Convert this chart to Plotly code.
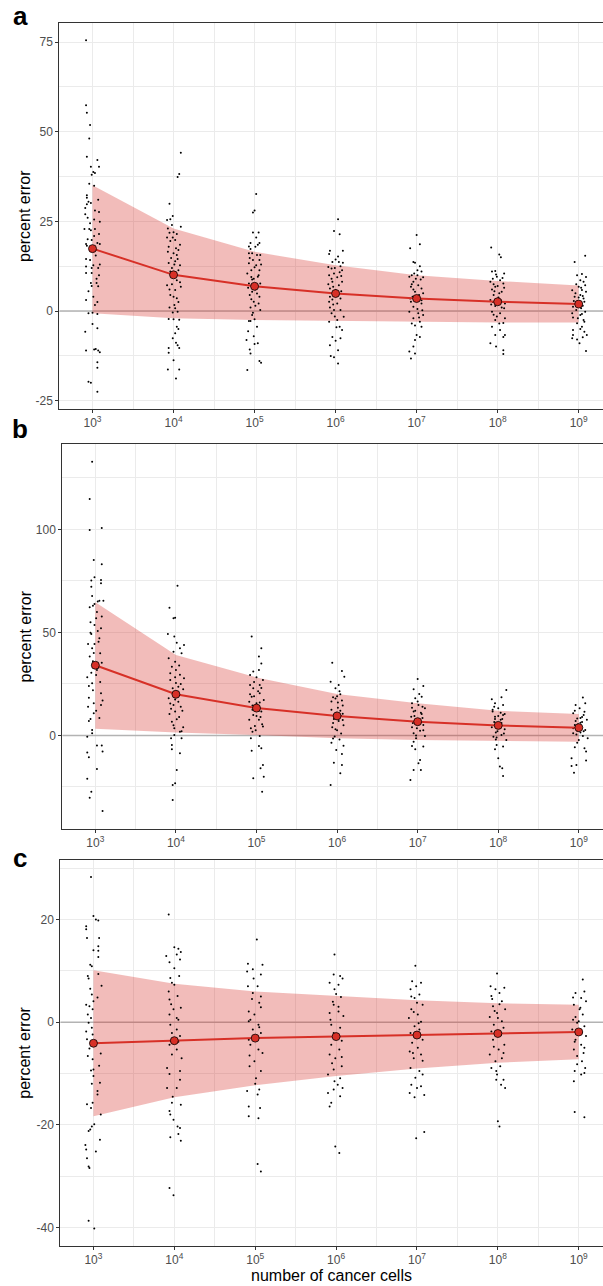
import plotly.graph_objects as go

# ---------------------------------------------------------------------------
# Data
# ---------------------------------------------------------------------------
CELLS_LOG10 = [3, 4, 5, 6, 7, 8, 9]
TICK_TEXT = ["10<sup>3</sup>", "10<sup>4</sup>", "10<sup>5</sup>", "10<sup>6</sup>",
             "10<sup>7</sup>", "10<sup>8</sup>", "10<sup>9</sup>"]

# panel a: mean percent error and ribbon bounds
A_MEAN = [17.4, 10.1, 6.9, 4.9, 3.5, 2.6, 1.95]
A_HI = [35.1, 23.0, 16.5, 12.8, 10.0, 8.4, 7.1]
A_LO = [-0.6, -2.0, -2.5, -2.8, -3.0, -3.2, -3.2]

# panel b
B_MEAN = [34.1, 20.0, 13.3, 9.5, 6.7, 4.9, 3.8]
B_HI = [64.7, 39.1, 28.2, 20.1, 15.6, 12.0, 10.4]
B_LO = [3.3, 1.5, 0.2, -1.4, -2.2, -2.7, -3.0]

# panel c
C_MEAN = [-4.1, -3.6, -3.1, -2.8, -2.5, -2.2, -1.9]
C_HI = [10.1, 7.5, 6.0, 5.1, 4.3, 3.7, 3.4]
C_LO = [-18.3, -14.6, -12.3, -10.5, -9.0, -7.9, -7.2]

# individual runs: (jittered log10 cell count, percent error)
A_POINTS = [
    # 10^3
    (2.92, 75.5), (2.92, 57.4), (2.93, 55.3), (2.97, 51.9), (2.96, 48.1), (2.93, 43.0),
    (2.98, 40.2), (3.06, 42.1), (3.08, 40.2), (3.01, 38.8), (2.99, 38.0), (3.03, 38.5),
    (3.02, 34.9), (2.93, 32.3), (2.93, 31.6), (2.98, 30.1), (2.93, 29.8), (2.91, 28.7),
    (2.91, 27.0), (3.08, 27.6), (3.09, 24.9), (2.90, 22.9), (2.96, 22.9), (2.98, 22.5),
    (3.03, 22.9), (3.02, 20.9), (2.92, 18.7), (2.93, 18.2), (2.99, 19.8), (3.09, 18.7),
    (2.92, 12.4), (2.92, 10.6), (2.99, 12.0), (2.99, 10.6), (3.07, 12.0), (2.98, 7.8),
    (3.05, 7.8), (3.07, 6.9), (3.01, 4.0), (3.03, 1.7), (2.92, 3.1), (3.00, -0.5),
    (2.95, -0.6), (3.06, -0.8), (3.00, -3.6), (3.06, -4.8), (2.91, -5.8), (3.02, -10.7),
    (2.92, -11.0), (3.04, -10.6), (3.07, -11.0), (3.09, -11.5), (3.06, -14.3), (3.06, -15.8),
    (2.95, -19.7), (2.98, -20.0), (3.06, -22.5), (3.04, 15.5), (2.97, 14.2), (3.08, 21.5),
    (2.94, 26.0), (3.05, 9.0), (2.99, 16.8), (3.07, 31.0), (2.95, 5.5), (3.02, 25.5),
    (3.09, 13.0), (2.96, 35.5), (3.06, 2.5), (2.94, 20.0), (3.05, 17.0), (2.97, 24.5),
    (3.08, 10.0), (2.92, 14.5), (3.03, 28.0), (2.99, 7.0), (3.06, 19.0), (2.95, 30.5),
    (3.01, 12.8),
    # 10^4
    (4.09, 44.1), (4.07, 38.2), (4.05, 37.4), (3.95, 29.9), (3.96, 25.6), (3.99, 26.5),
    (3.92, 25.4), (4.09, 23.5), (3.98, 24.0), (4.00, 22.0), (3.95, 21.8), (4.04, 21.5),
    (4.02, 19.8), (3.96, 19.5), (3.94, 17.9), (4.06, 17.0), (4.00, 16.1), (4.04, 15.6),
    (3.97, 14.8), (4.02, 13.9), (3.94, 13.4), (4.08, 12.8), (3.98, 12.0), (4.06, 11.4),
    (4.04, 8.6), (3.92, 7.2), (4.09, 6.8), (4.02, 5.9), (3.96, 4.5), (4.04, 3.6),
    (4.01, 1.7), (4.02, 0.8), (4.05, -0.2), (3.99, -0.4), (3.94, -2.2), (4.00, -2.3),
    (4.07, -2.4), (4.04, -4.4), (4.02, -6.2), (3.99, -7.6), (4.03, -8.8), (4.05, -9.5),
    (3.94, -10.3), (4.07, -10.3), (3.94, -11.6), (4.00, -13.7), (3.93, -16.3), (4.07, -16.3),
    (4.03, -18.8), (3.97, 9.8), (4.03, 10.5), (4.08, 18.5), (3.95, 6.0), (4.06, 2.5),
    (3.99, 20.5), (4.01, 13.0), (3.93, 16.5), (3.96, 11.0), (4.05, 14.5), (3.92, 20.5),
    (4.08, 8.0), (4.00, 4.0), (3.95, 1.0), (4.03, 17.5), (3.98, 7.5), (4.06, -5.0),
    (3.93, 23.0),
    # 10^5
    (5.02, 32.6), (5.00, 28.0), (4.98, 27.5), (4.98, 21.9), (5.05, 21.9), (4.95, 19.0),
    (5.06, 19.0), (5.01, 17.9), (4.95, 17.3), (4.93, 16.1), (4.97, 16.1), (5.03, 15.6),
    (5.07, 15.6), (4.98, 14.2), (5.06, 14.2), (4.93, 13.3), (5.02, 12.8), (5.00, 12.2),
    (4.96, 11.4), (5.06, 11.4), (4.91, 10.5), (5.04, 9.6), (4.97, 8.8), (4.93, 7.7),
    (5.07, 7.7), (4.97, 5.4), (5.03, 4.9), (4.94, 4.5), (4.99, 2.6), (5.05, 2.1),
    (4.95, 1.0), (5.07, 0.3), (4.97, -1.1), (4.93, -2.8), (4.95, -2.8), (5.00, -2.3),
    (5.03, -4.4), (4.92, -5.6), (4.99, -7.0), (4.90, -8.1), (5.00, -9.2), (5.04, -9.0),
    (4.94, -10.7), (4.95, -11.8), (5.06, -13.9), (5.08, -14.4), (4.91, -16.4), (5.01, 6.0),
    (4.96, 3.3), (5.04, 18.5), (4.99, 9.0), (4.94, 14.8), (5.05, 10.0), (4.92, 6.5),
    (5.02, 20.5), (4.98, -0.5), (5.08, 13.0), (4.96, 9.5), (5.01, 1.5), (4.93, 18.0),
    (5.06, 4.0),
    # 10^6
    (6.03, 25.6), (5.98, 22.3), (6.05, 21.4), (5.93, 16.8), (5.92, 15.9), (6.09, 16.8),
    (6.00, 14.4), (5.96, 13.7), (6.04, 13.7), (5.91, 12.3), (5.95, 11.9), (6.06, 12.5),
    (6.08, 11.4), (5.98, 10.5), (5.92, 10.0), (6.02, 9.4), (5.96, 8.2), (6.08, 8.2),
    (6.04, 7.2), (5.93, 6.3), (6.00, 5.9), (6.06, 3.5), (5.96, 3.2), (5.92, 2.6),
    (6.02, 2.1), (5.93, 1.0), (5.98, 0.3), (6.06, 0.3), (5.95, -0.6), (6.10, -1.6),
    (6.02, -2.5), (5.92, -3.0), (6.05, -4.4), (6.08, -5.3), (5.96, -7.2), (6.06, -7.6),
    (6.00, -8.3), (6.03, -10.9), (5.93, -9.5), (5.94, -12.5), (5.98, -12.9), (6.03, -14.6),
    (6.01, 4.5), (5.97, 6.8), (6.07, 9.8), (5.99, -1.5), (5.95, 9.0), (6.05, 10.8),
    (5.93, 4.0), (6.03, 15.2), (5.99, 12.0), (6.07, 5.5), (5.91, 7.5), (6.01, -4.5),
    (5.97, 1.8), (6.09, 13.5),
    # 10^7
    (7.00, 21.2), (6.92, 17.5), (7.04, 18.6), (6.96, 13.7), (6.98, 13.5), (7.01, 11.4),
    (7.06, 11.0), (6.94, 10.0), (6.91, 9.6), (7.08, 9.4), (6.96, 8.2), (7.02, 7.2),
    (6.93, 6.8), (7.06, 6.3), (6.98, 5.4), (6.93, 2.6), (7.06, 2.1), (6.96, 1.2),
    (6.91, -0.2), (7.02, -0.6), (7.08, -1.1), (6.96, -2.0), (7.04, -3.0), (7.06, -4.4),
    (7.00, -6.7), (7.04, -7.2), (6.98, -8.1), (6.96, -9.9), (6.91, -11.3), (6.98, -11.8),
    (6.93, -13.2), (7.03, 4.5), (6.99, 3.2), (7.05, 8.8), (6.95, 4.0), (7.01, 0.6),
    (6.97, 10.5), (7.07, 0.2), (6.94, -3.5), (6.96, 6.0), (7.04, 12.5), (6.92, 3.5),
    (7.08, 5.0), (6.99, 9.0), (7.03, -1.8), (6.94, 7.5), (7.06, 3.0), (6.98, -4.0),
    (7.01, 10.0),
    # 10^8
    (7.92, 17.7), (8.02, 15.8), (8.04, 15.0), (7.97, 11.2), (7.93, 11.0), (8.08, 10.5),
    (7.99, 9.6), (8.03, 8.6), (7.91, 8.2), (8.07, 7.7), (7.97, 6.8), (7.93, 6.0),
    (8.05, 5.4), (7.95, 4.5), (7.91, 3.1), (8.09, 2.1), (7.97, 1.4), (8.08, 0.8),
    (7.93, -0.2), (8.03, -0.6), (8.09, -2.0), (7.97, -2.5), (8.07, -3.3), (7.93, -4.4),
    (8.03, -5.3), (7.97, -6.7), (8.09, -6.7), (7.91, -9.0), (8.07, -7.2), (7.98, -9.9),
    (8.07, -10.9), (8.07, -12.0), (8.01, 3.8), (7.95, 7.5), (8.05, 1.0), (7.99, -1.5),
    (8.02, 5.0), (7.94, 9.0), (7.96, 5.5), (8.04, 3.0), (7.92, 1.8), (8.08, 6.5),
    (7.98, 10.2), (8.02, -3.5), (7.94, 2.5), (8.06, 9.2), (8.00, 7.0), (7.95, -1.0),
    # 10^9
    (8.95, 13.7), (9.08, 15.4), (9.04, 10.3), (8.98, 10.0), (9.02, 8.6), (9.06, 8.2),
    (9.08, 7.2), (9.00, 6.8), (9.04, 5.9), (9.09, 5.4), (9.02, 4.5), (8.95, 4.0),
    (9.06, 3.5), (9.07, 2.6), (8.93, 1.2), (9.03, 0.8), (8.97, 0.3), (9.08, -0.2),
    (8.92, -0.6), (9.02, -1.1), (8.93, -1.8), (9.06, -2.5), (8.98, -3.4), (9.04, -4.4),
    (8.93, -5.3), (9.07, -5.8), (8.93, -6.7), (9.05, -7.3), (8.98, -7.9), (9.01, -9.0),
    (8.92, -7.6), (9.10, -6.7), (9.09, -11.1), (9.01, 2.2), (8.96, 5.0), (9.05, 1.5),
    (8.99, -2.0), (9.03, 6.5), (8.94, 2.8), (9.05, 4.2), (8.97, 7.5), (9.07, -3.0),
    (9.00, 3.8), (8.92, 5.8), (9.04, -0.8), (8.98, 1.8), (9.09, 9.5), (9.02, -5.0),
]

B_POINTS = [
    # 10^3
    (2.96, 132.9), (2.93, 114.8), (2.93, 99.8), (3.08, 100.7), (2.98, 85.2), (3.08, 83.1),
    (2.99, 76.8), (2.95, 75.2), (3.07, 75.5), (3.07, 73.9), (2.95, 72.2), (2.96, 67.7),
    (3.05, 65.4), (3.03, 65.0), (3.10, 65.4), (2.99, 63.8), (2.93, 62.2), (2.97, 63.0),
    (3.08, 57.7), (3.01, 56.9), (2.99, 53.6), (3.03, 50.7), (2.94, 49.9), (2.95, 49.3),
    (3.05, 47.2), (2.91, 44.4), (2.99, 44.4), (2.96, 42.3), (3.06, 39.9), (2.93, 38.3),
    (3.08, 35.3), (3.02, 31.8), (2.90, 28.3), (3.01, 29.4), (2.96, 25.3), (3.07, 20.5),
    (2.92, 18.3), (2.91, 14.0), (2.98, 15.6), (3.07, 14.8), (2.98, 10.8), (2.92, 7.0),
    (3.05, 8.5), (2.96, 2.7), (2.96, 1.1), (2.90, -0.6), (3.02, -4.9), (3.08, -4.9),
    (3.09, -7.8), (2.90, -8.3), (2.92, -10.6), (3.02, -16.3), (2.90, -21.0), (2.95, -27.3),
    (2.93, -30.2), (3.09, -36.7), (3.04, 33.0), (2.97, 22.0), (3.06, 26.0), (2.94, 55.0),
    (3.01, 12.0), (2.98, 40.0), (3.04, 45.5), (2.95, 30.5), (3.07, 52.0), (2.92, 24.0),
    (3.02, 60.0), (2.97, 36.0), (3.09, 17.0), (2.94, 8.0),
    # 10^4
    (4.02, 72.7), (3.92, 62.0), (3.97, 56.9), (3.99, 57.2), (3.90, 49.3), (3.98, 48.0),
    (4.01, 45.0), (4.10, 43.9), (4.05, 42.3), (4.07, 39.9), (3.97, 40.7), (3.91, 37.5),
    (3.99, 35.8), (3.95, 33.4), (4.00, 31.8), (3.93, 30.2), (4.10, 27.8), (3.99, 28.3),
    (3.93, 26.9), (4.03, 23.7), (3.96, 22.9), (4.09, 22.4), (3.91, 18.1), (4.03, 16.4),
    (3.97, 14.8), (4.06, 14.0), (3.99, 11.6), (3.92, 10.4), (4.01, 7.9), (3.95, 6.7),
    (4.09, 4.0), (4.05, 1.8), (3.98, 0.2), (3.94, -1.4), (4.07, -1.4), (3.95, -4.6),
    (3.95, -6.7), (4.05, -8.6), (4.01, -16.7), (3.99, -23.2), (3.96, -24.0), (3.96, -31.3),
    (4.02, 19.5), (3.94, 13.0), (4.06, 25.0), (3.98, 3.5), (4.04, 9.0), (3.96, 20.5),
    (4.05, 29.5), (3.93, 15.5), (4.08, 12.0), (4.00, 25.5), (3.97, 5.0), (4.04, 34.0),
    (3.99, 17.5), (4.07, 2.0),
    # 10^5
    (4.94, 48.0), (5.06, 42.3), (5.03, 38.3), (5.06, 35.0), (4.96, 31.0), (5.03, 31.8),
    (4.92, 29.4), (5.08, 26.9), (5.00, 28.3), (4.92, 24.5), (5.04, 24.5), (4.96, 22.9),
    (5.04, 20.5), (4.94, 18.8), (5.09, 17.2), (5.00, 15.6), (4.91, 16.4), (5.06, 11.6),
    (4.96, 10.0), (4.91, 7.6), (5.03, 7.6), (5.08, 4.3), (4.98, 4.6), (4.95, 1.8),
    (5.04, -0.2), (4.93, -1.4), (5.03, -5.1), (5.06, -6.2), (4.94, -7.4), (5.08, -14.3),
    (5.05, -15.9), (4.96, -20.8), (5.09, -20.0), (5.07, -27.3), (5.01, 13.0), (4.97, 19.0),
    (5.05, 9.0), (4.99, 2.5), (5.02, 21.5), (4.95, 12.5), (4.95, 14.5), (5.04, 16.0),
    (4.92, 20.0), (5.07, 5.5), (5.00, 9.5), (4.97, 26.0), (5.03, 12.0), (4.93, 3.5),
    (5.06, 23.0),
    # 10^6
    (5.94, 35.3), (6.06, 31.3), (6.09, 28.5), (5.92, 26.1), (6.02, 24.5), (5.98, 22.9),
    (6.04, 20.0), (5.95, 18.5), (6.01, 16.0), (6.07, 14.5), (5.93, 12.5), (5.99, 11.0),
    (6.05, 9.5), (5.96, 8.0), (6.02, 7.0), (6.08, 5.0), (5.94, 4.0), (6.00, 2.5),
    (6.05, 1.0), (5.97, -0.5), (6.03, -2.0), (5.93, -3.5), (6.08, -5.0), (5.99, -7.0),
    (6.06, -9.0), (5.96, -13.2), (6.06, -14.3), (6.04, -18.3), (5.92, -24.0), (6.01, 13.5),
    (5.95, 6.0), (6.07, 10.5), (5.98, 18.0), (5.96, 10.0), (6.04, 12.0), (5.93, 16.5),
    (6.07, 7.5), (6.00, 19.0), (5.98, 3.0), (6.03, 21.5), (5.95, -1.5), (6.06, 17.0),
    # 10^7
    (7.00, 27.4), (6.95, 22.4), (7.07, 24.0), (7.02, 20.1), (6.97, 18.1), (7.05, 18.8),
    (6.93, 15.6), (7.01, 14.8), (7.09, 13.2), (6.95, 11.6), (7.05, 10.4), (6.92, 9.1),
    (7.07, 5.1), (6.93, 4.0), (7.03, 2.3), (6.95, 1.1), (7.09, -0.2), (6.98, -1.4),
    (6.93, -5.1), (7.07, -5.4), (6.97, -6.7), (7.03, -11.9), (7.01, -13.5), (6.95, -16.7),
    (7.04, -16.7), (6.91, -21.6), (7.01, 7.5), (6.97, 12.0), (7.04, 6.5), (6.99, 3.5),
    (7.06, 8.5), (6.94, 6.0), (6.96, 9.5), (7.04, 11.0), (6.93, 13.5), (7.07, 2.5),
    (7.00, 16.5), (6.98, 0.0), (7.02, 5.5), (6.95, -3.0), (7.06, 14.0),
    # 10^8
    (8.10, 22.1), (7.92, 17.6), (8.04, 18.5), (7.96, 15.6), (8.06, 14.8), (8.00, 13.2),
    (7.93, 11.6), (8.08, 10.4), (7.96, 9.1), (8.03, 7.6), (7.92, 4.0), (8.08, 3.0),
    (7.97, 1.4), (8.04, 0.2), (7.94, -0.6), (8.10, -2.2), (7.98, -4.6), (8.06, -5.4),
    (7.96, -6.7), (8.00, -11.1), (8.02, -15.1), (8.05, -15.9), (8.06, -19.7), (8.01, 5.5),
    (7.95, 6.5), (8.05, 8.0), (7.99, 2.0), (8.03, 11.0), (7.97, -2.0), (7.96, 8.0),
    (8.04, 6.0), (7.93, 12.5), (8.07, 1.0), (8.00, 9.5), (7.98, -1.0), (8.02, 3.5),
    (7.95, 14.0), (8.06, 10.0),
    # 10^9
    (9.05, 18.4), (8.96, 14.8), (9.08, 15.6), (9.01, 13.2), (8.93, 10.8), (9.06, 10.0),
    (8.98, 8.3), (9.10, 7.6), (9.02, 6.2), (8.95, 5.1), (9.08, 2.7), (8.98, 2.3),
    (8.93, 1.1), (9.05, -0.2), (9.11, -1.4), (9.00, -2.2), (8.95, -5.7), (9.07, -6.2),
    (9.09, -7.8), (8.91, -11.1), (8.97, -14.3), (8.91, -14.8), (9.09, -12.2), (8.94, -18.1),
    (9.03, 4.0), (8.99, 5.5), (9.04, 9.0), (8.97, 0.5), (9.02, 1.5), (8.96, 7.0),
    (9.04, 6.5), (8.93, 3.5), (9.07, 11.5), (9.00, 4.5), (8.98, -3.5), (9.02, 8.5),
    (8.95, 12.0), (9.06, 2.0),
]

C_POINTS = [
    # 10^3
    (2.97, 28.3), (3.00, 20.7), (3.03, 20.0), (3.06, 19.8), (2.91, 18.7), (2.91, 18.1),
    (2.92, 16.4), (3.07, 16.4), (3.06, 14.8), (3.06, 13.9), (3.06, 12.7), (2.96, 11.2),
    (2.98, 10.9), (3.06, 9.4), (2.93, 9.0), (2.94, 8.5), (3.10, 7.1), (2.98, 5.4),
    (3.00, 4.1), (2.91, 3.4), (2.95, 3.1), (2.99, 2.5), (2.97, 0.8), (2.94, -0.1),
    (2.98, -1.1), (2.91, -1.8), (2.99, -2.4), (2.92, -3.3), (2.95, -5.1), (3.09, -6.1),
    (2.93, -6.6), (2.99, -7.2), (3.00, -9.2), (2.97, -9.4), (3.00, -10.5), (3.08, -11.8),
    (3.05, -13.4), (3.05, -14.1), (2.99, -15.7), (2.97, -16.7), (3.09, -18.0), (3.01, -19.9),
    (2.98, -20.3), (2.94, -21.2), (3.08, -22.9), (2.96, -20.9), (2.90, -23.9), (2.91, -24.8),
    (3.03, -25.2), (2.92, -26.5), (2.94, -28.1), (2.95, -28.4), (2.94, -38.7), (3.01, -40.2),
    (2.96, 6.5), (3.04, -4.0), (2.93, 1.5), (3.07, -8.5), (3.00, 14.0), (2.98, -12.0),
    (3.05, 4.8), (2.92, -16.0),
    # 10^4
    (3.93, 21.0), (4.00, 14.6), (4.05, 14.3), (4.08, 13.7), (3.90, 12.9), (4.03, 13.2),
    (3.94, 11.7), (4.07, 12.2), (4.06, 9.0), (3.97, 7.7), (3.95, 8.6), (4.00, 7.3),
    (4.04, 5.1), (3.94, 4.4), (4.08, 2.8), (3.99, 2.5), (3.94, 1.5), (4.05, 0.5),
    (3.95, -0.5), (4.03, -1.4), (3.97, -2.1), (4.07, -2.7), (3.94, -4.4), (4.03, -5.3),
    (3.97, -6.3), (4.09, -7.0), (3.91, -8.9), (3.94, -10.1), (4.07, -11.2), (4.03, -12.8),
    (3.91, -12.8), (3.97, -15.7), (4.08, -16.1), (3.94, -17.3), (3.99, -19.0), (4.04, -20.3),
    (4.07, -20.6), (3.95, -22.4), (4.05, -21.8), (4.08, -23.1), (3.94, -32.3), (3.99, -33.7),
    (3.96, 3.5), (4.05, -3.8), (3.93, 6.0), (4.07, -9.5), (4.00, 10.5), (3.98, -14.5),
    (4.03, 0.8), (3.95, -18.0),
    # 10^5
    (5.02, 16.1), (4.91, 11.4), (5.09, 11.2), (4.97, 10.3), (4.90, 9.9), (5.07, 9.3),
    (5.03, 7.0), (4.91, 7.0), (4.97, 5.7), (5.05, 3.8), (4.92, 2.1), (5.07, 2.9),
    (4.99, 1.5), (4.92, 0.2), (5.04, -0.5), (4.97, -1.4), (5.07, -2.1), (4.92, -3.4),
    (4.94, -4.4), (5.04, -5.3), (5.09, -6.0), (4.99, -7.6), (4.93, -8.6), (5.07, -9.5),
    (5.01, -10.9), (5.05, -13.1), (4.90, -13.4), (5.03, -14.1), (4.92, -16.4), (5.06, -16.7),
    (4.92, -18.3), (5.04, -18.7), (5.03, -27.6), (5.07, -29.1), (4.96, 4.5), (5.05, -1.0),
    (4.93, -6.5), (5.07, 5.0), (5.00, -12.0), (4.98, 8.5), (5.03, -3.0), (4.94, 0.5),
    # 10^6
    (5.98, 13.2), (5.97, 9.3), (6.05, 9.0), (6.08, 8.5), (5.92, 7.7), (6.03, 7.3),
    (5.98, 6.4), (6.06, 4.9), (5.97, 3.4), (5.92, 1.8), (6.03, 2.1), (6.09, 1.2),
    (5.94, -0.5), (6.05, -1.1), (5.97, -2.1), (6.07, -3.6), (5.94, -4.4), (6.04, -5.3),
    (5.92, -6.3), (5.99, -7.0), (6.07, -8.6), (5.97, -9.2), (5.90, -10.2), (6.05, -10.9),
    (6.02, -12.2), (5.97, -13.1), (6.08, -12.8), (5.90, -13.8), (6.05, -14.4), (5.94, -15.7),
    (5.92, -16.4), (5.99, -24.2), (6.04, -25.5), (5.96, 4.0), (6.04, -2.8), (5.93, 0.5),
    (6.07, -6.8), (6.00, 5.5), (5.98, -11.5), (6.03, 3.0), (5.95, -8.0),
    # 10^7
    (6.98, 11.0), (6.94, 8.0), (7.05, 7.7), (6.99, 7.0), (6.92, 6.4), (7.03, 5.4),
    (6.97, 4.7), (7.07, 3.4), (6.93, 2.5), (7.01, 1.5), (6.90, 0.8), (7.05, 0.1),
    (6.97, -0.8), (7.03, -1.4), (6.92, -2.1), (7.07, -3.4), (6.94, -4.0), (7.01, -5.0),
    (6.91, -5.7), (7.05, -6.3), (6.96, -7.0), (6.92, -8.9), (7.03, -9.5), (7.07, -10.2),
    (6.93, -12.2), (7.00, -12.8), (7.05, -12.5), (6.91, -13.8), (7.09, -14.2), (6.97, -14.6),
    (6.99, -22.6), (7.09, -21.4), (6.96, 2.0), (7.04, -2.5), (6.93, 5.0), (7.07, -7.5),
    (7.00, 3.8), (6.98, -10.8), (7.02, -0.2), (6.95, -6.0),
    # 10^8
    (7.99, 9.5), (7.91, 7.0), (7.97, 6.4), (8.08, 6.7), (8.02, 5.7), (7.92, 5.1),
    (8.05, 4.1), (7.94, 3.1), (8.09, 2.5), (7.99, 1.8), (7.90, 1.0), (8.05, 0.2),
    (7.95, -0.5), (8.07, -1.1), (7.92, -1.8), (7.94, -3.4), (8.08, -4.4), (8.01, -5.3),
    (7.90, -6.3), (8.05, -7.0), (7.97, -7.6), (7.92, -8.9), (8.03, -8.6), (7.99, -10.2),
    (8.07, -11.2), (7.98, -11.2), (8.09, -12.8), (8.04, -12.2), (8.00, -19.3), (8.02, -20.3),
    (7.96, 2.2), (8.04, -2.5), (7.93, 4.5), (8.07, -6.0), (8.00, 0.8), (7.98, -9.5),
    (8.02, 3.5), (7.95, -4.8),
    # 10^9
    (9.05, 8.3), (8.96, 5.7), (9.07, 6.0), (9.03, 4.7), (9.09, 4.1), (8.94, 3.4),
    (9.01, 2.5), (9.05, 1.5), (8.93, 0.5), (8.98, -0.1), (9.07, -0.8), (8.92, -1.4),
    (9.09, -2.7), (8.96, -3.4), (9.03, -4.4), (8.94, -5.3), (9.06, -6.0), (8.98, -6.6),
    (9.04, -7.6), (9.08, -8.9), (8.95, -9.5), (9.03, -10.2), (9.07, -9.9), (8.94, -11.5),
    (8.95, -17.5), (9.07, -18.5), (8.96, 1.0), (9.04, -2.0), (8.93, 4.8), (9.07, -5.0),
    (9.00, 0.2), (8.98, -8.2), (9.02, 2.8), (8.95, -3.8),
]

# ---------------------------------------------------------------------------
# Styling
# ---------------------------------------------------------------------------
W, H = 603, 1286
X_RANGE = [2.59, 9.30]
RED = "rgb(215,48,39)"
RIBBON = "rgba(215,48,39,0.32)"
GRID = "#ebebeb"
FRAME = "#333333"
FONT = "Liberation Sans, Arial, sans-serif"
TICK_FONT = dict(family=FONT, size=12, color="#4d4d4d")
TITLE_FONT = dict(family=FONT, size=16, color="black")

panels = [
    # suffix, points, mean, hi, lo, x-domain px, y-domain px (top, bottom), y range, ticks, minor ticks
    ("", A_POINTS, A_MEAN, A_HI, A_LO, 59.3, (23, 409), [-27.3, 80.3],
     [-25, 0, 25, 50, 75], [-12.5, 12.5, 37.5, 62.5]),
    ("2", B_POINTS, B_MEAN, B_HI, B_LO, 62.3, (444, 829), [-45.4, 141.5],
     [0, 50, 100], [-25, 25, 75, 125]),
    ("3", C_POINTS, C_MEAN, C_HI, C_LO, 60.3, (860, 1245.5), [-43.5, 31.6],
     [-40, -20, 0, 20], [-30, -10, 10, 30]),
]

fig = go.Figure()
layout_axes = {}

for suffix, pts, mean, hi, lo, left_px, (top_px, bot_px), yr, yt, ymin in panels:
    xa, ya = "x" + suffix, "y" + suffix

    # reference line at zero
    fig.add_trace(go.Scatter(x=X_RANGE, y=[0, 0], mode="lines", xaxis=xa, yaxis=ya,
                             line=dict(color="rgb(179,179,179)", width=1.6),
                             hoverinfo="skip", showlegend=False))
    # ribbon
    fig.add_trace(go.Scatter(x=CELLS_LOG10, y=hi, mode="lines", xaxis=xa, yaxis=ya,
                             line=dict(width=0, color=RIBBON), hoverinfo="skip",
                             showlegend=False))
    fig.add_trace(go.Scatter(x=CELLS_LOG10, y=lo, mode="lines", xaxis=xa, yaxis=ya,
                             line=dict(width=0, color=RIBBON), fill="tonexty",
                             fillcolor=RIBBON, hoverinfo="skip", showlegend=False))
    # individual runs
    fig.add_trace(go.Scatter(x=[p[0] for p in pts], y=[p[1] for p in pts], mode="markers",
                             xaxis=xa, yaxis=ya,
                             marker=dict(size=2.0, color="black", line=dict(width=0)),
                             showlegend=False))
    # mean trend
    fig.add_trace(go.Scatter(x=CELLS_LOG10, y=mean, mode="lines+markers", xaxis=xa, yaxis=ya,
                             line=dict(color=RED, width=2),
                             marker=dict(size=8, color=RED, line=dict(color="black", width=0.8)),
                             showlegend=False))

    key = suffix if suffix else ""
    layout_axes["xaxis" + key] = dict(
        domain=[left_px / W, 1.0], range=X_RANGE, anchor=ya,
        tickmode="array", tickvals=CELLS_LOG10, ticktext=TICK_TEXT,
        ticks="outside", ticklen=3, tickcolor=FRAME, tickwidth=1,
        tickfont=TICK_FONT, showline=True, linecolor=FRAME, linewidth=1, mirror=True,
        showgrid=True, gridcolor=GRID, gridwidth=1, zeroline=False,
        minor=dict(tickmode="array", tickvals=[3.5, 4.5, 5.5, 6.5, 7.5, 8.5],
                   showgrid=True, gridcolor=GRID, gridwidth=0.6, ticks=""),
    )
    layout_axes["yaxis" + key] = dict(
        domain=[1 - bot_px / H, 1 - top_px / H], range=yr, anchor=xa,
        tickmode="array", tickvals=yt, ticktext=[str(v) for v in yt],
        ticks="outside", ticklen=3, tickcolor=FRAME, tickwidth=1,
        tickfont=TICK_FONT, showline=True, linecolor=FRAME, linewidth=1, mirror=False,
        showgrid=True, gridcolor=GRID, gridwidth=1, zeroline=False,
        minor=dict(tickmode="array", tickvals=ymin, showgrid=True, gridcolor=GRID,
                   gridwidth=0.6, ticks=""),
    )

annotations = []
# panel letters
for letter, y_px in [("a", 16), ("b", 429), ("c", 858)]:
    annotations.append(dict(text=f"<b>{letter}</b>", x=20 / W, y=1 - y_px / H,
                            xref="paper", yref="paper", xanchor="center", yanchor="middle",
                            showarrow=False, font=dict(family=FONT, size=26, color="black")))
# y titles
for y_px in [216, 636.5, 1052.7]:
    annotations.append(dict(text="percent error", x=25 / W, y=1 - y_px / H, xref="paper",
                            yref="paper", xanchor="center", yanchor="middle", textangle=-90,
                            showarrow=False, font=TITLE_FONT))
# x title
annotations.append(dict(text="number of cancer cells", x=331.5 / W, y=1 - 1275 / H,
                        xref="paper", yref="paper", xanchor="center", yanchor="middle",
                        showarrow=False, font=TITLE_FONT))

fig.update_layout(
    width=W, height=H, margin=dict(l=0, r=0, t=0, b=0),
    paper_bgcolor="white", plot_bgcolor="white",
    annotations=annotations, showlegend=False,
    **layout_axes,
)

fig.write_html("out.html")
